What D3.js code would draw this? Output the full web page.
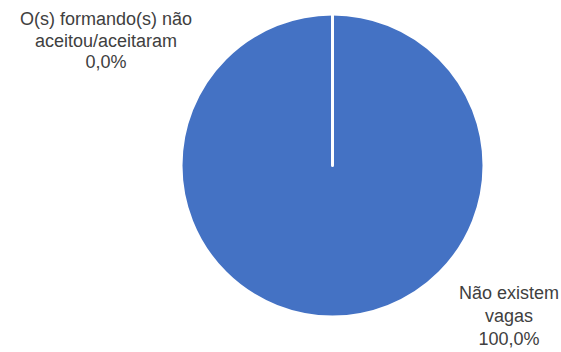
<!DOCTYPE html>
<html>
<head>
<meta charset="utf-8">
<script src="https://cdn.jsdelivr.net/npm/d3@7"></script>
<style>
  html, body { margin: 0; padding: 0; background: #ffffff; }
  svg { display: block; }
</style>
</head>
<body>
<svg id="chart" width="561" height="352"></svg>
<script>
const categories = ["O(s) formando(s) não aceitou/aceitaram", "Não existem vagas"];
const values = [0, 100];
const labelLines = [
  ["O(s) formando(s) não", "aceitou/aceitaram"],
  ["Não existem", "vagas"]
];
const percentLabels = ["0,0%", "100,0%"];

const W = 561, H = 352;
const cx = 332.5, cy = 165.5, R = 151.5;
const color = "#4472C4";
const textColor = "#404040";
const labelAnchors = [[106, 25], [509, 299]];
const lineHs = [21.5, 23];

const svg = d3.select("#chart");
const g = svg.append("g").attr("transform", `translate(${cx},${cy})`);

const pie = d3.pie().sort(null).value(d => d.v);
const data = pie(categories.map((c, i) => ({ c, v: values[i], i })));
const arc = d3.arc().innerRadius(0).outerRadius(R);

g.selectAll("path.fill").data(data).join("path")
  .attr("class", "fill")
  .attr("d", arc)
  .attr("fill", color);

g.selectAll("path.edge").data(data).join("path")
  .attr("class", "edge")
  .attr("d", arc)
  .attr("fill", "none")
  .attr("stroke", "#ffffff")
  .attr("stroke-width", 3)
  .attr("stroke-linejoin", "round");

const labels = svg.selectAll("text.lbl").data(data).join("text")
  .attr("class", "lbl")
  .attr("text-anchor", "middle")
  .attr("font-family", "Liberation Sans, Arial, sans-serif")
  .attr("font-size", 18)
  .attr("fill", textColor)
  .attr("x", d => labelAnchors[d.index][0])
  .attr("y", d => labelAnchors[d.index][1]);

labels.each(function(d) {
  const t = d3.select(this);
  const lines = labelLines[d.index].concat([percentLabels[d.index]]);
  lines.forEach((ln, k) => {
    t.append("tspan")
      .attr("x", labelAnchors[d.index][0])
      .attr("dy", k === 0 ? 0 : lineHs[d.index])
      .text(ln);
  });
});
</script>
</body>
</html>
